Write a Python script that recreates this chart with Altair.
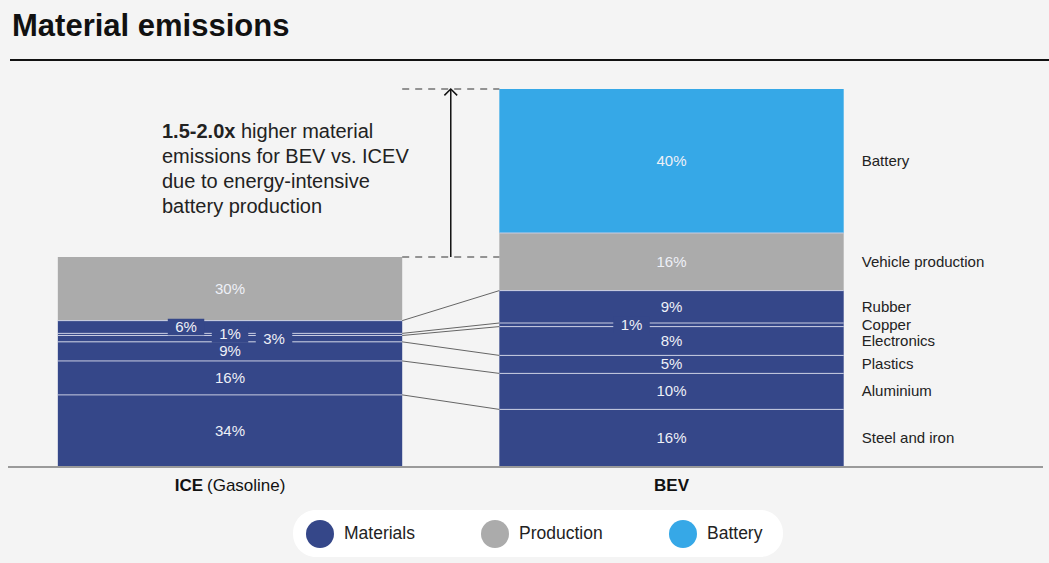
import altair as alt
import pandas as pd

# ---- data -------------------------------------------------------------
vehicles = ["ICE", "BEV"]
vehicle_bold = ["ICE", "BEV"]
vehicle_note = ["(Gasoline)", ""]
components = ["Steel and iron", "Aluminium", "Plastics", "Electronics",
              "Copper", "Rubber", "Vehicle production", "Battery"]
component_groups = ["Materials", "Materials", "Materials", "Materials",
                    "Materials", "Materials", "Production", "Battery"]
ice_shares = [34, 16, 9, 3, 1, 6, 30, 0]
bev_shares = [16, 10, 5, 8, 1, 9, 16, 40]
# total material emissions relative to the ICE vehicle (= 100)
vehicle_totals = [100, 180]

legend_groups = ["Materials", "Production", "Battery"]
legend_colors = ["#354789", "#ababab", "#36a8e7"]

annotation_bold = "1.5-2.0x"
annotation_lines = [" higher material", "emissions for BEV vs. ICEV",
                    "due to energy-intensive", "battery production"]
title_text = "Material emissions"

# ---- layout -----------------------------------------------------------
W, H = 1049, 563
FONT = "Liberation Sans"
BG = "#f4f4f4"
SEG_LINE = "#c9cde2"
TEXT_IN = "#eef0f7"
X_DOMAIN = [-0.521, 1.855]
HALF = 0.39
PX_PER_UNIT = 2.1
BASE_PX = 467
Y_DOMAIN = [-(H - BASE_PX) / PX_PER_UNIT, BASE_PX / PX_PER_UNIT]
# horizontal nudges (px) for labels of segments too thin to hold text
SMALL_DX = {("ICE", "Rubber"): -44, ("ICE", "Copper"): 0,
            ("ICE", "Electronics"): 44, ("BEV", "Copper"): -40}
BOX = "M-1.1,-0.5H1.1V0.5H-1.1Z"

color_of = dict(zip(legend_groups, legend_colors))
rows = []
for vi, (veh, shares, total) in enumerate(zip(vehicles, [ice_shares, bev_shares], vehicle_totals)):
    s = sum(shares)
    base = 0.0
    for comp, grp, pct in zip(components, component_groups, shares):
        if pct == 0:
            continue
        h = pct / s * total
        rows.append(dict(vehicle=veh, idx=vi, component=comp, group=grp,
                         fill=color_of[grp], pct=pct, label=f"{pct}%",
                         y0=base, y1=base + h, ymid=base + h / 2,
                         x0=vi - HALF, x1=vi + HALF, xc=vi,
                         hpx=h * PX_PER_UNIT))
        base += h
seg = pd.DataFrame(rows)
seg["top"] = seg.groupby("vehicle")["y1"].transform("max") == seg["y1"]

xs = alt.Scale(domain=X_DOMAIN, nice=False, zero=False)
ys = alt.Scale(domain=Y_DOMAIN, nice=False, zero=False)

one = pd.DataFrame({"z": [0]})

# white pill behind the legend entries
legend_pill = alt.Chart(one).mark_rect(color="white", cornerRadius=23).encode(
    x=alt.value(293), x2=alt.value(783), y=alt.value(510), y2=alt.value(557))

bars = alt.Chart(seg).mark_rect().encode(
    x=alt.X("x0:Q", scale=xs, axis=None), x2="x1:Q",
    y=alt.Y("y0:Q", scale=ys, axis=None), y2="y1:Q",
    color=alt.Color("group:N",
                    scale=alt.Scale(domain=legend_groups, range=legend_colors),
                    legend=alt.Legend(orient="none", legendX=295, legendY=509,
                                      direction="horizontal", title=None,
                                      symbolType="circle", symbolSize=784,
                                      symbolStrokeWidth=0, symbolOpacity=1,
                                      labelFont=FONT, labelFontSize=17.5,
                                      labelColor="#222222", labelOffset=10,
                                      columnPadding=66, padding=11)),
)

bounds = alt.Chart(seg[~seg["top"]]).mark_rule(color=SEG_LINE, strokeWidth=1).encode(
    x=alt.X("x0:Q", scale=xs), x2="x1:Q", y=alt.Y("y1:Q", scale=ys))

ice = seg[(seg.vehicle == "ICE") & (seg.group == "Materials")].set_index("component")
bev = seg[(seg.vehicle == "BEV") & (seg.group == "Materials")].set_index("component")
conn = pd.DataFrame({"xa": ice["x1"], "ya": ice["y1"],
                     "xb": bev.loc[ice.index, "x0"], "yb": bev.loc[ice.index, "y1"]})
connectors = alt.Chart(conn).mark_rule(color="#555555", strokeWidth=0.9).encode(
    x=alt.X("xa:Q", scale=xs), y=alt.Y("ya:Q", scale=ys), x2="xb:Q", y2="yb:Q")

tot = pd.DataFrame({"vehicle": vehicles, "total": vehicle_totals})
tot["xa"] = 0 + HALF
tot["xb"] = 1 - HALF
dashes = alt.Chart(tot).mark_rule(color="#333333", strokeWidth=1.2, strokeDash=[7, 6]).encode(
    x=alt.X("xa:Q", scale=xs), x2="xb:Q", y=alt.Y("total:Q", scale=ys))

gap = pd.DataFrame({"xm": [0.5], "lo": [vehicle_totals[0]], "hi": [vehicle_totals[1]]})
arrow_shaft = alt.Chart(gap).mark_rule(color="#111111", strokeWidth=1.5).encode(
    x=alt.X("xm:Q", scale=xs), y=alt.Y("lo:Q", scale=ys), y2="hi:Q")
arrow_head = alt.Chart(gap).mark_point(
    shape="M-0.8,0.8L0,0L0.8,0.8", filled=False, size=256,
    color="#111111", strokeWidth=1.5, opacity=1).encode(
    x=alt.X("xm:Q", scale=xs), y=alt.Y("hi:Q", scale=ys))

big = seg[seg.hpx >= 14]
big_labels = alt.Chart(big).mark_text(font=FONT, fontSize=15, color=TEXT_IN).encode(
    x=alt.X("xc:Q", scale=xs), y=alt.Y("ymid:Q", scale=ys), text="label:N")

small_layers = []
for (veh, comp), dx in SMALL_DX.items():
    d = seg[(seg.vehicle == veh) & (seg.component == comp)]
    base = alt.Chart(d).encode(x=alt.X("xc:Q", scale=xs), y=alt.Y("ymid:Q", scale=ys))
    small_layers.append(base.mark_point(shape=BOX, size=1100, filled=True, opacity=1,
                                        strokeWidth=0, xOffset=dx).encode(
        color=alt.Color("fill:N", scale=None)))
    small_layers.append(base.mark_text(font=FONT, fontSize=15, color=TEXT_IN, dx=dx).encode(
        text="label:N"))

bev_rows = seg[seg.vehicle == "BEV"]
side_labels = alt.Chart(bev_rows).mark_text(font=FONT, fontSize=15, color="#222222",
                                            align="left", dx=18).encode(
    x=alt.X("x1:Q", scale=xs), y=alt.Y("ymid:Q", scale=ys), text="component:N")

cap = pd.DataFrame({"xc": [0, 1], "bold": vehicle_bold, "note": vehicle_note})
cap_ice_bold = alt.Chart(cap[cap.xc == 0]).mark_text(
    font=FONT, fontSize=17, fontWeight="bold", color="#111111", align="right",
    baseline="middle", dx=-27).encode(x=alt.X("xc:Q", scale=xs), y=alt.value(486), text="bold:N")
cap_ice_note = alt.Chart(cap[cap.xc == 0]).mark_text(
    font=FONT, fontSize=17, color="#111111", align="left",
    baseline="middle", dx=-23).encode(x=alt.X("xc:Q", scale=xs), y=alt.value(486), text="note:N")
cap_bev = alt.Chart(cap[cap.xc == 1]).mark_text(
    font=FONT, fontSize=17, fontWeight="bold", color="#111111",
    baseline="middle").encode(x=alt.X("xc:Q", scale=xs), y=alt.value(486), text="bold:N")

baseline = alt.Chart(one).mark_rule(color="#9a9a9a", strokeWidth=2).encode(
    x=alt.value(8), x2=alt.value(1043), y=alt.Y("z:Q", scale=ys))
title_rule = alt.Chart(one).mark_rule(color="#111111", strokeWidth=2).encode(
    x=alt.value(10), x2=alt.value(W), y=alt.value(60))
title = alt.Chart(one).mark_text(font=FONT, fontSize=31, fontWeight="bold", color="#111111",
                                 align="left", baseline="alphabetic").encode(
    x=alt.value(12), y=alt.value(36), text=alt.value(title_text))

ann = [alt.Chart(one).mark_text(font=FONT, fontSize=20, fontWeight="bold", color="#222222",
                                align="left", baseline="alphabetic").encode(
    x=alt.value(162), y=alt.value(138), text=alt.value(annotation_bold))]
ann_x = [241, 162, 162, 162]
ann_y = [138, 163, 188, 213]
for t, ax, ay in zip(annotation_lines, ann_x, ann_y):
    ann.append(alt.Chart(one).mark_text(font=FONT, fontSize=20, color="#222222",
                                        align="left", baseline="alphabetic").encode(
        x=alt.value(ax), y=alt.value(ay), text=alt.value(t)))

chart = alt.layer(
    legend_pill, bars, bounds, connectors, dashes, arrow_shaft, arrow_head,
    big_labels, *small_layers, side_labels,
    cap_ice_bold, cap_ice_note, cap_bev, baseline, title_rule, title, *ann,
).properties(
    width=W, height=H, padding=0,
    autosize=alt.AutoSizeParams(type="none"),
).configure(background=BG).configure_view(stroke=None)

chart.save("out.html", embed_options={"renderer": "svg", "actions": False})
